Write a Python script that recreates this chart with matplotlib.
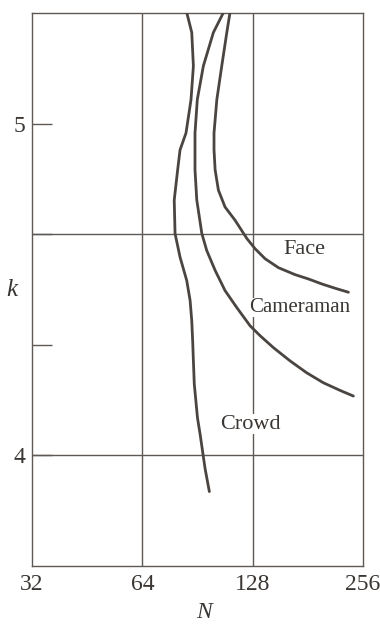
import matplotlib
matplotlib.use("Agg")
import matplotlib.pyplot as plt

# Data (N, k)
crowd_N = [84.6, 87.3, 88.2, 86.9, 84.2, 81.1, 79.9, 78.2, 78.6, 81.1, 84.6, 86.4, 87.3, 87.8, 88.2,
           88.7, 90.5, 92.0, 94.9, 97.5]
crowd_k = [5.335, 5.275, 5.174, 5.073, 4.972, 4.921, 4.861, 4.770, 4.669, 4.598, 4.527, 4.467, 4.406,
           4.345, 4.285, 4.215, 4.113, 4.064, 3.961, 3.891]

camera_N = [106.5, 100.0, 93.9, 90.4, 89.1, 89.1, 89.1, 90.1, 93.0, 95.9, 101.1, 107.6, 115.8, 125.9,
            134.1, 145.8, 161.9, 179.8, 199.6, 221.7, 241.0]
camera_k = [5.335, 5.275, 5.174, 5.073, 4.972, 4.921, 4.861, 4.770, 4.669, 4.618, 4.558, 4.497, 4.446, 4.391,
            4.361, 4.325, 4.285, 4.249, 4.219, 4.196, 4.179]

face_N = [111.0, 108.8, 105.4, 102.2, 100.4, 100.4, 101.1, 103.2, 107.6, 114.6, 123.4, 130.0, 138.4,
          150.5, 167.1, 181.7, 197.6, 214.8, 233.6]
face_k = [5.335, 5.275, 5.174, 5.073, 4.972, 4.921, 4.861, 4.800, 4.749, 4.709, 4.654, 4.623, 4.593,
          4.566, 4.545, 4.532, 4.517, 4.504, 4.492]

labels = ["Face", "Cameraman", "Crowd"]
label_N = [176.8, 172.4, 125.9]
label_k = [4.621, 4.446, 4.094]

x_ticks = [32, 64, 128, 256]
x_labels = ["32", "64", "128", "256"]
y_ticks = [4, 13 / 3, 14 / 3, 5]
y_labels = ["4", "", "", "5"]
grid_x = [64, 128]
grid_y = [14 / 3, 4]

line_c = "#4a4541"
grid_c = "#5e5955"
text_c = "#3a3633"
font = "Liberation Serif"

fig = plt.figure(figsize=(3.80, 6.27), dpi=100)
ax = fig.add_axes([0.0842, 0.0973, 0.8711, 0.8817])
ax.set_xscale("log", base=2)
ax.set_xlim(32, 256)
ax.set_ylim(11 / 3, 16 / 3)

for gx in grid_x:
    ax.axvline(gx, color=grid_c, lw=1.0, zorder=1)
for gy in grid_y:
    ax.axhline(gy, color=grid_c, lw=1.0, zorder=1)

for N, k in [(crowd_N, crowd_k), (camera_N, camera_k), (face_N, face_k)]:
    ax.plot(N, k, color=line_c, lw=2.0, solid_capstyle="round",
            solid_joinstyle="round", zorder=3)

sizes = [16, 15, 16]
for t, n, k, s in zip(labels, label_N, label_k, sizes):
    ax.text(n, k, t, fontsize=s, family=font, color=text_c,
            ha="center", va="center", zorder=4,
            bbox=dict(facecolor="white", edgecolor="none", pad=0.3))

ax.xaxis.set_minor_locator(matplotlib.ticker.NullLocator())
ax.yaxis.set_minor_locator(matplotlib.ticker.NullLocator())
ax.set_xticks(x_ticks)
ax.set_xticklabels(x_labels, family=font, fontsize=17, color=text_c)
ax.set_yticks(y_ticks)
ax.set_yticklabels(y_labels, family=font, fontsize=17, color=text_c)
ax.tick_params(axis="x", length=0, pad=6)
ax.tick_params(axis="y", direction="in", length=14.5, width=1.0, color=grid_c, pad=5)

for s in ax.spines.values():
    s.set_color(grid_c)
    s.set_linewidth(1.0)

ax.set_xlabel("N", family=font, style="italic", fontsize=17, color=text_c, va="center")
ax.xaxis.set_label_coords(0.52, -0.0840)
ax.set_ylabel("k", family=font, style="italic", fontsize=18, color=text_c,
              rotation=0, va="center", ha="center")
ax.yaxis.set_label_coords(-0.06, 0.50)

fig.savefig("out.png", dpi=100)
